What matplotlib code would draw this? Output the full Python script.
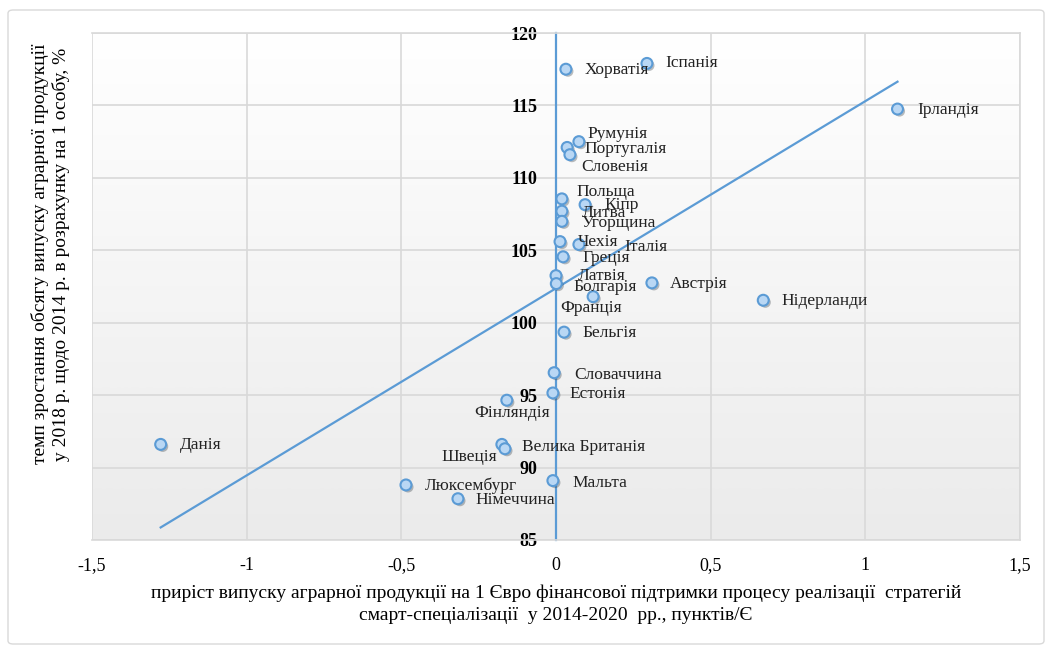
import numpy as np
import matplotlib
matplotlib.use("Agg")
import matplotlib.pyplot as plt
import matplotlib.patheffects as pe
from matplotlib.patches import FancyBboxPatch

# дані
countries = ["Іспанія", "Хорватія", "Ірландія", "Румунія", "Португалія", "Словенія",
             "Польща", "Кіпр", "Литва", "Угорщина", "Чехія", "Італія", "Греція",
             "Латвія", "Болгарія", "Франція", "Австрія", "Нідерланди", "Бельгія",
             "Словаччина", "Естонія", "Фінляндія", "Велика Британія", "Швеція",
             "Данія", "Люксембург", "Німеччина", "Мальта"]
x_vals = [0.294, 0.032, 1.104, 0.074, 0.036, 0.045,
          0.019, 0.094, 0.019, 0.019, 0.013, 0.074, 0.023,
          0.000, 0.001, 0.120, 0.310, 0.670, 0.026,
          -0.006, -0.010, -0.159, -0.175, -0.165,
          -1.278, -0.485, -0.317, -0.010]
y_vals = [117.9, 117.5, 114.75, 112.5, 112.1, 111.6,
          108.55, 108.15, 107.7, 107.0, 105.6, 105.4, 104.55,
          103.25, 102.7, 101.8, 102.75, 101.55, 99.35,
          96.55, 95.15, 94.65, 91.6, 91.3,
          91.6, 88.8, 87.85, 89.1]
x_ticks = [-1.5, -1, -0.5, 0, 0.5, 1, 1.5]
y_ticks = [85, 90, 95, 100, 105, 110, 115, 120]

# зсув підписів, пікселі
label_off = {"Іспанія": (18, 0), "Хорватія": (19, -1), "Ірландія": (20, -1),
             "Румунія": (9, 8), "Португалія": (17, -2), "Словенія": (11, -12),
             "Польща": (15, 7), "Кіпр": (19, 0), "Литва": (20, -2),
             "Угорщина": (20, -2), "Чехія": (18, 0), "Італія": (45, -3),
             "Греція": (19, -1), "Латвія": (22, 0), "Болгарія": (17, -3),
             "Франція": (-33, -11), "Австрія": (18, -1), "Нідерланди": (18, -1),
             "Бельгія": (18, -1), "Словаччина": (20, -2), "Естонія": (17, -1),
             "Фінляндія": (-33, -13), "Велика Британія": (20, -3),
             "Швеція": (-64, -8), "Данія": (19, -1), "Люксембург": (19, -1),
             "Німеччина": (18, -1), "Мальта": (20, -2)}

plt.rcParams['font.family'] = ['Liberation Serif', 'DejaVu Serif']
blue = '#5b9bd5'

fig = plt.figure(figsize=(10.56, 6.52), dpi=100)
ax = fig.add_axes([92/1056, 1-540/652, (1020-92)/1056, (540-33)/652])

# рамка діаграми
fig.patches.append(FancyBboxPatch((8/1056, 8/652), 1036/1056, 634/652,
                                  boxstyle="round,pad=0,rounding_size=0.005",
                                  transform=fig.transFigure, fill=False,
                                  edgecolor='#d9d9d9', linewidth=1))

ax.set_xlim(-1.5, 1.5)
ax.set_ylim(85, 120)

# градієнтний фон
grad = np.linspace(0, 1, 256).reshape(-1, 1)
ax.imshow(grad, extent=[-1.5, 1.5, 85, 120], aspect='auto', origin='upper',
          cmap=matplotlib.colors.LinearSegmentedColormap.from_list('g', ['#ffffff', '#ebebeb']),
          zorder=0)

ax.set_xticks(x_ticks)
ax.set_yticks(y_ticks)
ax.grid(True, color='#d9d9d9', linewidth=1.2, zorder=1)
ax.set_axisbelow(True)

for s in ['top', 'right', 'bottom']:
    ax.spines[s].set_color('#d9d9d9')
    ax.spines[s].set_linewidth(1.2)
ax.spines['left'].set_position(('data', 0))
ax.spines['left'].set_color(blue)
ax.spines['left'].set_linewidth(1.6)
ax.spines['left'].set_zorder(2)

fmt = lambda v: ('%g' % v).replace('.', ',')
ax.set_xticklabels([fmt(v) for v in x_ticks], fontsize=13)
ax.set_yticklabels([fmt(v) for v in y_ticks], fontsize=13, fontweight='bold')
ax.tick_params(axis='both', length=0)
ax.tick_params(axis='x', pad=12)
ax.tick_params(axis='y', pad=13.5)

# лінія тренду
k, b = np.polyfit(x_vals, y_vals, 1)
xt = np.array([min(x_vals), max(x_vals)])
ax.plot(xt, k * xt + b, color=blue, linewidth=1.6, zorder=3)

sc = ax.scatter(x_vals, y_vals, s=62, facecolor='#b9d7f4', edgecolor=blue,
                linewidth=1.5, zorder=4)
sc.set_path_effects([pe.SimplePatchShadow(offset=(1.5, -1.5), alpha=0.35), pe.Normal()])

for name, xv, yv in zip(countries, x_vals, y_vals):
    dx, dy = label_off[name]
    ax.annotate(name, (xv, yv), xytext=(dx, dy), textcoords='offset pixels',
                fontsize=12.5, ha='left', va='center', color='#222222', zorder=5)

fig.text(556/1056, 1-593/652,
         "приріст випуску аграрної продукції на 1 Євро фінансової підтримки процесу реалізації  стратегій",
         ha='center', va='center', fontsize=14)
fig.text(556/1056, 1-616/652,
         "смарт-спеціалізації  у 2014-2020  рр., пунктів/Є",
         ha='center', va='center', fontsize=14)
fig.text(40/1056, 1-254/652,
         "темп зростання обсягу випуску аграрної продукції",
         ha='center', va='center', rotation=90, fontsize=14)
fig.text(61/1056, 1-254/652,
         "у 2018 р. щодо 2014 р. в розрахунку на 1 особу, %",
         ha='center', va='center', rotation=90, fontsize=14)

fig.savefig('out.png', dpi=100)
